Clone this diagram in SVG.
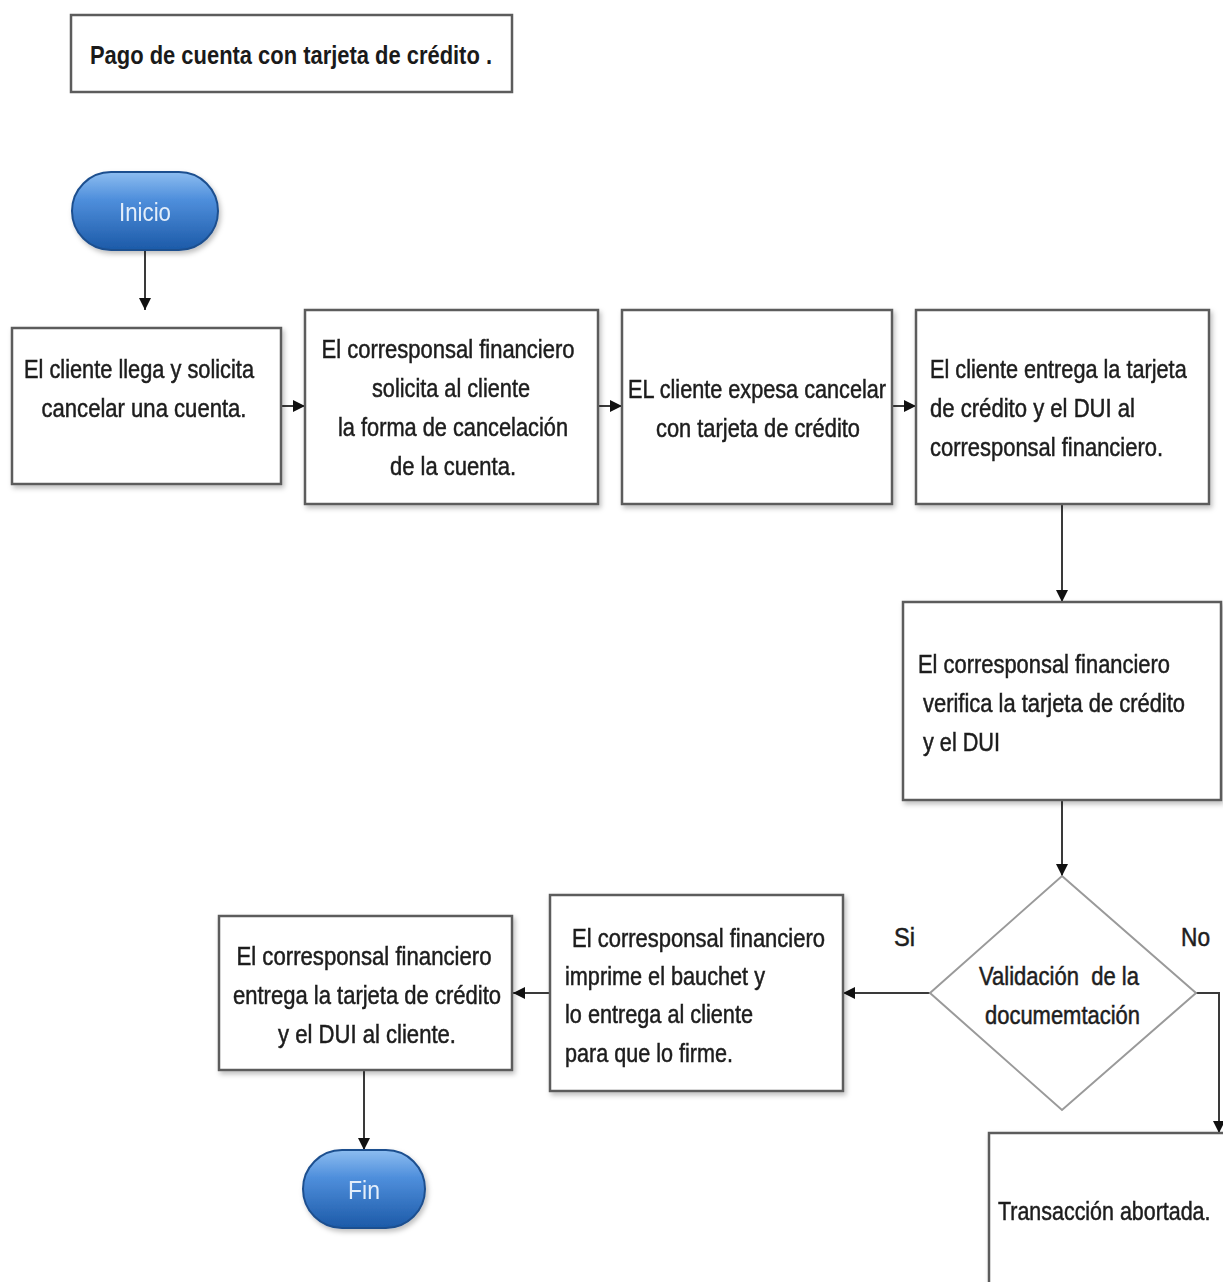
<svg xmlns="http://www.w3.org/2000/svg" width="1223" height="1282" viewBox="0 0 1223 1282">
  <style>
    .box { fill: #ffffff; stroke: #5c5c5c; stroke-width: 2.5; }
    .dia { fill: #ffffff; stroke: #9a9a9a; stroke-width: 2; }
    .txt { font-family: "Liberation Sans", Arial, sans-serif; font-size: 25px; fill: #1e1e1e; stroke: #1e1e1e; stroke-width: 0.5; }
    .mid { text-anchor: middle; }
    .title { font-family: "Liberation Sans", Arial, sans-serif; font-size: 25px; font-weight: bold; fill: #1a1a1a; }
    .term { stroke: #1d4f8f; stroke-width: 2; fill: url(#pill); }
    .termtxt { font-family: "Liberation Sans", Arial, sans-serif; font-size: 26px; fill: #e3eefa; text-anchor: middle; }
    .conn { fill: none; stroke: #3a3a3a; stroke-width: 2; marker-end: url(#arrow); }
    .shadow { filter: url(#soft); }
  </style>
  <defs>
    <linearGradient id="pill" x1="0" y1="0" x2="0" y2="1">
      <stop offset="0" stop-color="#8dbdf0"/>
      <stop offset="0.35" stop-color="#4f8fdc"/>
      <stop offset="1" stop-color="#1c5aa8"/>
    </linearGradient>
    <filter id="soft" x="-10%" y="-10%" width="130%" height="130%">
      <feDropShadow dx="2" dy="3" stdDeviation="2.5" flood-color="#000" flood-opacity="0.25"/>
    </filter>
    <marker id="arrow" viewBox="0 0 10 10" refX="10" refY="5" markerWidth="12" markerHeight="12" markerUnits="userSpaceOnUse" orient="auto">
      <path d="M0,0 L10,5 L0,10 z" fill="#111"/>
    </marker>
  </defs>

  <rect width="1223" height="1282" fill="#ffffff"/>

  <!-- title -->
  <g id="title">
    <rect class="box" x="71" y="15" width="441" height="77"/>
    <text class="title" x="90" y="64" textLength="402" lengthAdjust="spacingAndGlyphs">Pago de cuenta con tarjeta de crédito .</text>
  </g>

  <!-- connectors -->
  <g id="connectors">
    <path class="conn" d="M145,250 L145,310"/>
    <path class="conn" d="M281,406 L305,406"/>
    <path class="conn" d="M598,406 L622,406"/>
    <path class="conn" d="M892,406 L916,406"/>
    <path class="conn" d="M1062,504 L1062,602"/>
    <path class="conn" d="M1062,800 L1062,876"/>
    <path class="conn" d="M930,993 L843,993"/>
    <path class="conn" d="M550,993 L513,993"/>
    <path class="conn" d="M364,1070 L364,1150"/>
    <path class="conn" d="M1196,993 L1219,993 L1219,1133"/>
    <text class="txt" x="894" y="946" textLength="21" lengthAdjust="spacingAndGlyphs">Si</text>
    <text class="txt" x="1181" y="946" textLength="29" lengthAdjust="spacingAndGlyphs">No</text>
  </g>

  <!-- start -->
  <g id="inicio" class="shadow">
    <rect class="term" x="72" y="172" width="146" height="78" rx="39"/>
    <text class="termtxt" x="145" y="221" textLength="52" lengthAdjust="spacingAndGlyphs">Inicio</text>
  </g>

  <g id="n1" class="shadow">
    <rect class="box" x="12" y="328" width="269" height="156"/>
    <text class="txt mid" x="139" y="378" textLength="230" lengthAdjust="spacingAndGlyphs">El cliente llega y solicita</text>
    <text class="txt mid" x="144" y="417" textLength="205" lengthAdjust="spacingAndGlyphs">cancelar una cuenta.</text>
  </g>

  <g id="n2" class="shadow">
    <rect class="box" x="305" y="310" width="293" height="194"/>
    <text class="txt mid" x="448" y="358" textLength="253" lengthAdjust="spacingAndGlyphs">El corresponsal financiero</text>
    <text class="txt mid" x="451" y="397" textLength="158" lengthAdjust="spacingAndGlyphs">solicita al cliente</text>
    <text class="txt mid" x="453" y="436" textLength="230" lengthAdjust="spacingAndGlyphs">la forma de cancelación</text>
    <text class="txt mid" x="453" y="475" textLength="126" lengthAdjust="spacingAndGlyphs">de la cuenta.</text>
  </g>

  <g id="n3" class="shadow">
    <rect class="box" x="622" y="310" width="270" height="194"/>
    <text class="txt mid" x="757" y="398" textLength="258" lengthAdjust="spacingAndGlyphs">EL cliente expesa cancelar</text>
    <text class="txt mid" x="758" y="437" textLength="204" lengthAdjust="spacingAndGlyphs">con tarjeta de crédito</text>
  </g>

  <g id="n4" class="shadow">
    <rect class="box" x="916" y="310" width="293" height="194"/>
    <text class="txt" transform="translate(930,378) scale(0.85,1)" x="0" y="0" textLength="302" lengthAdjust="spacingAndGlyphs">El cliente entrega la tarjeta</text>
    <text class="txt" x="930" y="417" textLength="205" lengthAdjust="spacingAndGlyphs">de crédito y el DUI al</text>
    <text class="txt" x="930" y="456" textLength="233" lengthAdjust="spacingAndGlyphs">corresponsal financiero.</text>
  </g>

  <g id="n5" class="shadow">
    <rect class="box" x="903" y="602" width="318" height="198"/>
    <text class="txt" x="918" y="673" textLength="252" lengthAdjust="spacingAndGlyphs">El corresponsal financiero</text>
    <text class="txt" x="923" y="712" textLength="262" lengthAdjust="spacingAndGlyphs">verifica la tarjeta de crédito</text>
    <text class="txt" x="923" y="751" textLength="77" lengthAdjust="spacingAndGlyphs">y el DUI</text>
  </g>

  <g id="decision">
    <path class="dia" d="M1062,876 L1196,993 L1062,1110 L930,993 Z"/>
    <text class="txt" x="979" y="985" textLength="160" lengthAdjust="spacingAndGlyphs">Validación &#160;de la</text>
    <text class="txt" x="985" y="1024" textLength="155" lengthAdjust="spacingAndGlyphs">documemtación</text>
  </g>

  <g id="n6" class="shadow">
    <rect class="box" x="550" y="895" width="293" height="196"/>
    <text class="txt" x="572" y="947" textLength="253" lengthAdjust="spacingAndGlyphs">El corresponsal financiero</text>
    <text class="txt" x="565" y="985" textLength="200" lengthAdjust="spacingAndGlyphs">imprime el bauchet y</text>
    <text class="txt" x="565" y="1023" textLength="188" lengthAdjust="spacingAndGlyphs">lo entrega al cliente</text>
    <text class="txt" x="565" y="1062" textLength="168" lengthAdjust="spacingAndGlyphs">para que lo firme.</text>
  </g>

  <g id="n7" class="shadow">
    <rect class="box" x="219" y="916" width="293" height="154"/>
    <text class="txt mid" x="364" y="965" textLength="255" lengthAdjust="spacingAndGlyphs">El corresponsal financiero</text>
    <text class="txt mid" x="367" y="1004" textLength="268" lengthAdjust="spacingAndGlyphs">entrega la tarjeta de crédito</text>
    <text class="txt mid" x="367" y="1043" textLength="178" lengthAdjust="spacingAndGlyphs">y el DUI al cliente.</text>
  </g>

  <g id="fin" class="shadow">
    <rect class="term" x="303" y="1150" width="122" height="78" rx="39"/>
    <text class="termtxt" x="364" y="1199" textLength="32" lengthAdjust="spacingAndGlyphs">Fin</text>
  </g>

  <g id="n8" class="shadow">
    <rect class="box" x="989" y="1133" width="250" height="170"/>
    <text class="txt" transform="translate(998,1220) scale(0.85,1)" x="0" y="0" textLength="250" lengthAdjust="spacingAndGlyphs">Transacción abortada.</text>
  </g>
</svg>
